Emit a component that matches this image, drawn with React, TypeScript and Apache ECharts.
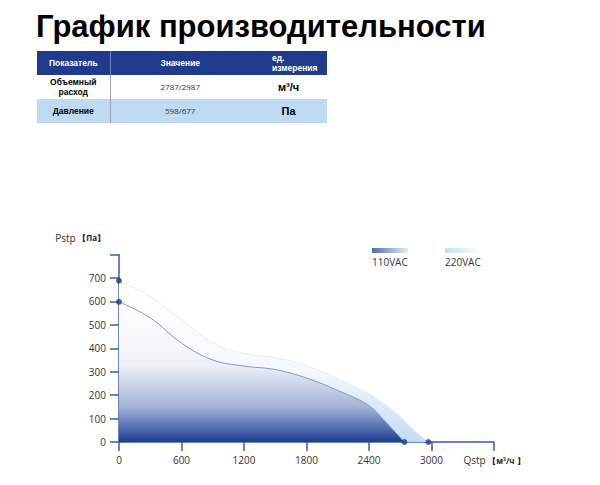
import { useEffect, useRef } from 'react';
import * as echarts from 'echarts';

// chart data
const q110 = [0, 300, 600, 900, 1200, 1500, 1800, 2100, 2400, 2560, 2740];
const p110 = [598, 530, 422, 350, 324, 309, 273, 220, 155, 85, 0];
const q220 = [0, 300, 600, 900, 1200, 1500, 1800, 2100, 2400, 2650, 2830, 2970];
const p220 = [688, 620, 522, 424, 378, 360, 326, 270, 205, 128, 51, 0];

const seriesNames = ['110VAC', '220VAC'];
const xTicks = [0, 600, 1200, 1800, 2400, 3000, 3600];

const tableHead = ['Показатель', 'Значение', 'ед. измерения'];
const tableRows = [
    ['Объемный расход', '2787/2987', 'м³/ч'],
    ['Давление', '598/677', 'Па'],
];

const zip = (xs: number[], ys: number[]) => xs.map((x, i) => [x, ys[i]]);
const ends = (xs: number[], ys: number[]) => [
    [xs[0], ys[0]],
    [xs[xs.length - 1], ys[ys.length - 1]],
];

const font = "'Open Sans', 'Noto Sans', sans-serif";

function PerfChart() {
    const ref = useRef<HTMLDivElement>(null);

    useEffect(() => {
        if (!ref.current) return;
        const chart = echarts.init(ref.current, null, { renderer: 'svg' });

        const axisColor = '#3b5ba5';
        chart.setOption({
            animation: false,
            textStyle: { fontFamily: font },
            grid: { left: 119, right: 106, top: 254.5, bottom: 43 },
            xAxis: {
                type: 'value',
                min: 0,
                max: xTicks[xTicks.length - 1],
                interval: 600,
                splitLine: { show: false },
                axisLine: { lineStyle: { color: axisColor, width: 1.5 } },
                axisTick: { length: 9, lineStyle: { color: axisColor, width: 1.5 } },
                axisLabel: {
                    margin: 13,
                    fontSize: 10,
                    color: '#333',
                    showMaxLabel: true,
                    formatter: (v: number) =>
                        v === xTicks[xTicks.length - 1] ? 'Qstp {b|【м³/ч 】}' : String(v),
                    rich: { b: { fontSize: 8, fontWeight: 'bold', color: '#222' } },
                },
            },
            yAxis: {
                type: 'value',
                min: 0,
                max: 800,
                interval: 100,
                name: 'Pstp {b|【Па】}',
                nameLocation: 'end',
                nameGap: 17,
                nameTextStyle: {
                    align: 'right',
                    verticalAlign: 'middle',
                    padding: [0, 14, 0, 0],
                    fontSize: 10,
                    color: '#333',
                    rich: { b: { fontSize: 8, fontWeight: 'bold', color: '#222' } },
                },
                splitLine: { show: false },
                axisLine: { show: true, lineStyle: { color: axisColor, width: 1.5 } },
                axisTick: { show: true, length: 9, lineStyle: { color: axisColor, width: 1.5 } },
                axisLabel: {
                    margin: 13,
                    fontSize: 10,
                    color: '#333',
                    formatter: (v: number) => (v === 800 ? '' : String(v)),
                },
            },
            series: [
                {
                    name: seriesNames[1],
                    type: 'line',
                    data: zip(q220, p220),
                    smooth: 0.4,
                    showSymbol: false,
                    lineStyle: { color: '#e6edf7', width: 1 },
                    areaStyle: {
                        opacity: 1,
                        color: new echarts.graphic.LinearGradient(0, 0, 0, 1, [
                            { offset: 0, color: '#ffffff' },
                            { offset: 0.55, color: '#f4f8fd' },
                            { offset: 1, color: '#c3dcf3' },
                        ]),
                    },
                    z: 1,
                },
                {
                    name: seriesNames[0],
                    type: 'line',
                    data: zip(q110, p110),
                    smooth: 0.4,
                    showSymbol: false,
                    lineStyle: { color: '#8298c7', width: 1 },
                    areaStyle: {
                        opacity: 1,
                        color: new echarts.graphic.LinearGradient(0, 0, 0, 1, [
                            { offset: 0, color: '#ffffff' },
                            { offset: 0.45, color: '#eef1f8' },
                            { offset: 0.75, color: '#a3b3d8' },
                            { offset: 1, color: '#1d3e91' },
                        ]),
                    },
                    z: 2,
                },
                {
                    type: 'scatter',
                    data: [...ends(q110, p110), ...ends(q220, p220)],
                    symbolSize: 6,
                    itemStyle: { color: '#1c3b8c' },
                    z: 5,
                },
            ],
            graphic: [
                {
                    type: 'rect',
                    shape: { x: 372, y: 248, width: 36, height: 5 },
                    style: {
                        fill: new echarts.graphic.LinearGradient(0, 0, 1, 0, [
                            { offset: 0, color: '#4d6db0' },
                            { offset: 1, color: '#e8eef8' },
                        ]),
                    },
                },
                {
                    type: 'text',
                    x: 372,
                    y: 262,
                    style: {
                        text: seriesNames[0],
                        fontSize: 10,
                        fontFamily: font,
                        fill: '#333',
                        verticalAlign: 'middle',
                    },
                },
                {
                    type: 'rect',
                    shape: { x: 445, y: 248, width: 36, height: 5 },
                    style: {
                        fill: new echarts.graphic.LinearGradient(0, 0, 1, 0, [
                            { offset: 0, color: '#c6def4' },
                            { offset: 1, color: '#ffffff' },
                        ]),
                    },
                },
                {
                    type: 'text',
                    x: 445,
                    y: 262,
                    style: {
                        text: seriesNames[1],
                        fontSize: 10,
                        fontFamily: font,
                        fill: '#333',
                        verticalAlign: 'middle',
                    },
                },
            ],
        });

        return () => chart.dispose();
    }, []);

    return (
        <div
            ref={ref}
            style={{ position: 'absolute', left: 0, top: 0, width: 600, height: 485 }}
        />
    );
}

const cell: React.CSSProperties = {
    height: 24,
    padding: 0,
    fontFamily: "'Liberation Sans', Arial, sans-serif",
    fontSize: 8.5,
    lineHeight: '10px',
    verticalAlign: 'middle',
    textAlign: 'center',
};

export default function App() {
    return (
        <div style={{ position: 'absolute', left: 0, top: 0, width: 600, height: 485, background: '#fff' }}>
            <PerfChart />
            <div
                style={{
                    position: 'absolute',
                    left: 36,
                    top: 11,
                    fontFamily: "'Liberation Sans', Arial, sans-serif",
                    fontWeight: 'bold',
                    fontSize: 31,
                    lineHeight: 1,
                    color: '#000',
                    whiteSpace: 'nowrap',
                }}
            >
                График производительности
            </div>
            <table
                style={{
                    position: 'absolute',
                    left: 37,
                    top: 51,
                    width: 290,
                    borderCollapse: 'collapse',
                    tableLayout: 'fixed',
                }}
            >
                <colgroup>
                    <col style={{ width: 73 }} />
                    <col style={{ width: 140 }} />
                    <col style={{ width: 77 }} />
                </colgroup>
                <thead>
                    <tr style={{ background: '#1f3b8c', color: '#fff' }}>
                        <th style={{ ...cell, borderRight: '1px solid #6b80b8' }}>{tableHead[0]}</th>
                        <th style={cell}>{tableHead[1]}</th>
                        <th style={{ ...cell, textAlign: 'left', paddingLeft: 22 }}>
                            {tableHead[2].split(' ')[0]}
                            <br />
                            {tableHead[2].split(' ')[1]}
                        </th>
                    </tr>
                </thead>
                <tbody>
                    {tableRows.map((r, i) => (
                        <tr key={i} style={{ background: i === 1 ? '#bfdaf3' : '#fff' }}>
                            <td style={{ ...cell, fontWeight: 'bold', borderRight: '1px solid #a0a0a0', padding: '0 10px' }}>
                                {r[0]}
                            </td>
                            <td style={{ ...cell, fontFamily: font, fontSize: 8, color: '#333' }}>{r[1]}</td>
                            <td style={{ ...cell, fontWeight: 'bold', fontSize: 11, textAlign: 'center' }}>{r[2]}</td>
                        </tr>
                    ))}
                </tbody>
            </table>
        </div>
    );
}
